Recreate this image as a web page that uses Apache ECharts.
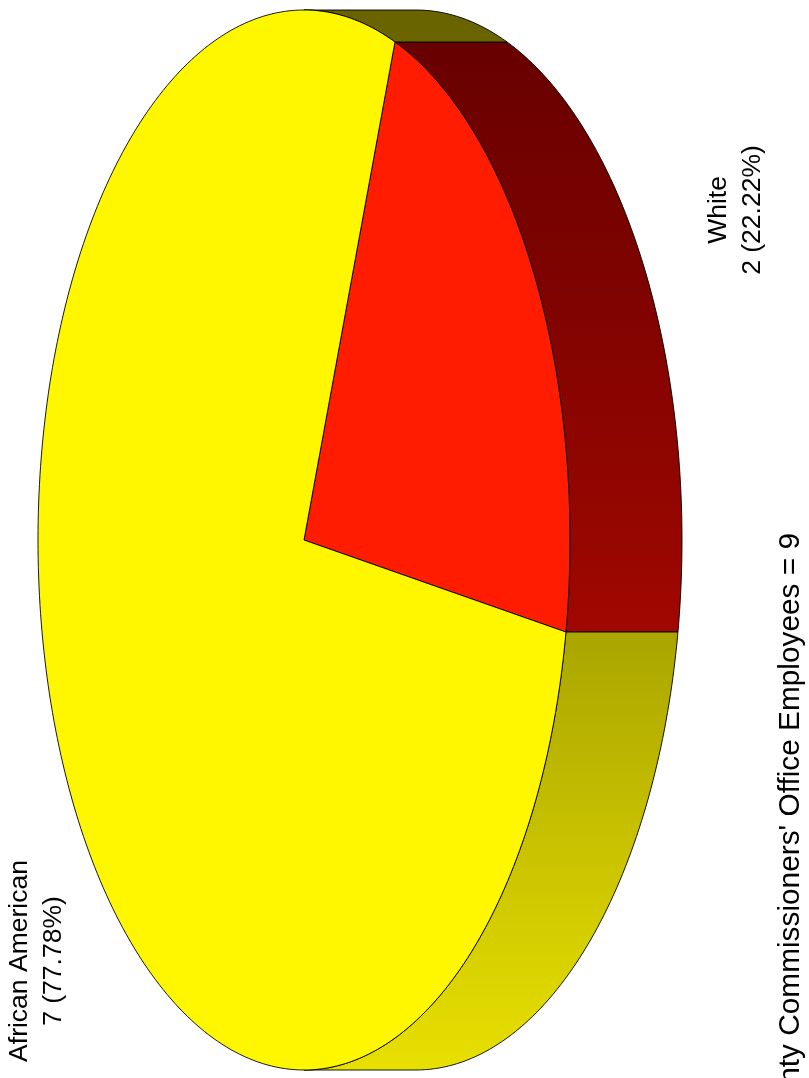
<!DOCTYPE html>
<html>
<head>
<meta charset="utf-8">
<style>html,body{margin:0;padding:0;background:#fff}#c{width:809px;height:1078px}</style>
<script src="https://cdn.jsdelivr.net/npm/echarts@6/dist/echarts.min.js"></script>
</head>
<body>
<div id="c"></div>
<script>
const categories = ['White', 'African American'];
const counts = [2, 7];
const percentLabels = ['22.22%', '77.78%'];
const topColors = ['#ff1c00', '#fff700'];
const sideDark = ['#640000', '#686200'];
const sideMid = ['#a00700', '#aaa500'];
const sideBright = ['#cc0d00', '#e8e000'];
const titleText = "County Commissioners' Office Employees = 9";

const total = counts.reduce((a, b) => a + b, 0);
const startDeg = -70;
const depth = 112 / 266;
const rows = [];
let acc = startDeg;
counts.forEach((v, i) => {
  const sweep = v / total * 360;
  rows.push([acc, acc + sweep, i]);
  acc += sweep;
});

function pt(deg, off) {
  const a = deg * Math.PI / 180;
  return [Math.cos(a) + (off || 0), Math.sin(a)];
}
function arc(a0, a1) {
  const out = [];
  const n = Math.max(2, Math.ceil(Math.abs(a1 - a0)));
  for (let k = 0; k <= n; k++) out.push(a0 + (a1 - a0) * k / n);
  return out;
}
function sidePieces(a0, a1) {
  // visible outer wall: the parts where the rim faces the extrusion direction
  const pieces = [];
  for (let s = -1; s <= 1; s++) {
    const lo = Math.max(a0, -90 + 360 * s), hi = Math.min(a1, 90 + 360 * s);
    if (hi > lo) pieces.push([lo, hi]);
  }
  return pieces;
}

const chart = echarts.init(document.getElementById('c'), null, {renderer: 'canvas'});
chart.setOption({
  animation: false,
  backgroundColor: '#ffffff',
  grid: {left: 38, width: 532, top: 10, height: 1060},
  xAxis: {type: 'value', min: -1, max: 1, show: false},
  yAxis: {type: 'value', min: -1, max: 1, inverse: true, show: false},
  series: [
    {
      type: 'custom', name: 'wall', silent: true, data: rows, clip: false,
      renderItem(params, api) {
        const a0 = api.value(0), a1 = api.value(1), i = api.value(2);
        const yTop = api.coord([0, -1])[1], yBot = api.coord([0, 1])[1];
        const fill = new echarts.graphic.LinearGradient(0, yTop, 0, yBot,
          [{offset: 0, color: sideDark[i]}, {offset: 0.585, color: sideMid[i]}, {offset: 1, color: sideBright[i]}], true);
        return {
          type: 'group',
          children: sidePieces(a0, a1).map(([lo, hi]) => {
            const front = arc(lo, hi).map(d => api.coord(pt(d, 0)));
            const back = arc(hi, lo).map(d => api.coord(pt(d, depth)));
            return {
              type: 'polygon',
              shape: {points: front.concat(back)},
              style: {fill, stroke: '#000', lineWidth: 0.9}
            };
          })
        };
      }
    },
    {
      type: 'custom', name: 'top', silent: true, data: rows, clip: false,
      renderItem(params, api) {
        const a0 = api.value(0), a1 = api.value(1), i = api.value(2);
        const pts = [api.coord([0, 0])].concat(arc(a0, a1).map(d => api.coord(pt(d, 0))));
        return {
          type: 'polygon',
          shape: {points: pts},
          style: {fill: topColors[i], stroke: '#000', lineWidth: 0.9}
        };
      }
    }
  ],
  graphic: [
    {
      type: 'text', x: 735.5, y: 210, rotation: Math.PI / 2, silent: true,
      style: {text: categories[0] + '\n' + counts[0] + ' (' + percentLabels[0] + ')',
        fontFamily: '"Liberation Sans"', fontSize: 26.5, lineHeight: 34, fill: '#000',
        align: 'center', verticalAlign: 'middle'}
    },
    {
      type: 'text', x: 36.5, y: 961, rotation: Math.PI / 2, silent: true,
      style: {text: categories[1] + '\n' + counts[1] + ' (' + percentLabels[1] + ')',
        fontFamily: '"Liberation Sans"', fontSize: 26.5, lineHeight: 34, fill: '#000',
        align: 'center', verticalAlign: 'middle'}
    },
    {
      type: 'text', x: 791, y: 533, rotation: Math.PI / 2, silent: true,
      style: {text: titleText, fontFamily: '"Liberation Sans"', fontSize: 29.8, fill: '#000',
        align: 'right', verticalAlign: 'middle'}
    }
  ]
});
</script>
</body>
</html>
